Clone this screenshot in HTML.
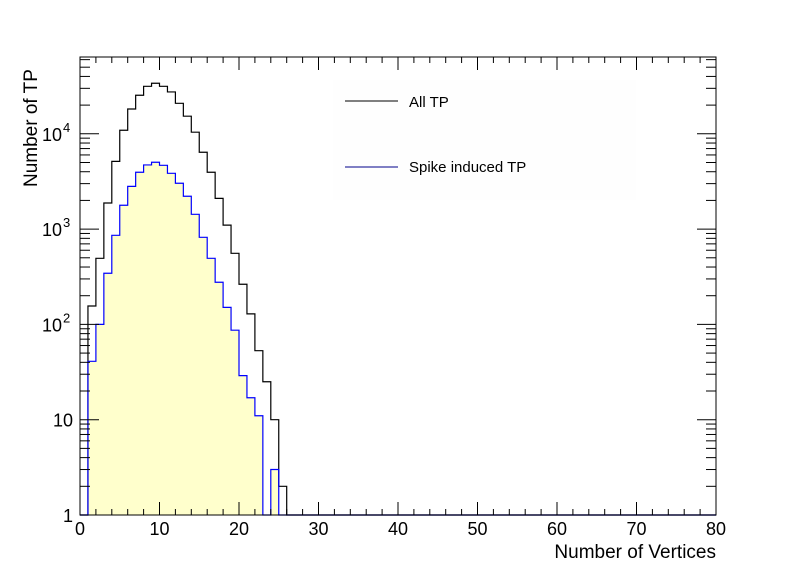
<!DOCTYPE html>
<html><head><meta charset="utf-8"><style>
html,body{margin:0;padding:0;background:#fff;}
svg{display:block;font-family:"Liberation Sans",Arial,sans-serif;}
</style></head><body>
<svg id="chart" width="796" height="572" xmlns="http://www.w3.org/2000/svg">
<rect x="333" y="80" width="303" height="120" fill="#fefefe"/>
<g id="plot"></g>
<rect x="80" y="57" width="636" height="458" fill="none" stroke="#000" stroke-width="1"/>
<g id="axes"></g>
<line x1="345" y1="101" x2="398" y2="101" stroke="#000"/>
<text x="409" y="107" font-size="15">All TP</text>
<line x1="345" y1="167" x2="398" y2="167" stroke="#00008b"/>
<text x="409" y="172" font-size="15">Spike induced TP</text>
<text x="716" y="558" font-size="19" text-anchor="end">Number of Vertices</text>
<text transform="translate(37,187) rotate(-90)" font-size="19">Number of TP</text>
</svg>
<script>
const allTP = [0,156,494,1880,5140,10900,18200,25400,31500,33900,31500,27500,20900,15300,10400,6400,3950,2100,1100,557,264,129,53,25,10,2];
const spikeTP = [0,41,100,344,861,1780,2810,3950,4710,5030,4670,3850,3030,2210,1430,820,494,277,151,87,29,17,11,0,3,0];
const xTicks = [0,10,20,30,40,50,60,70,80];
const yTicks = [1,10,100,1000,10000];
const yTickBase = ["1","10","10","10","10"];
const yTickExp = ["","","2","3","4"];

const X0=80,X1=716,Y0=515,Y1=57,XMIN=0,XMAX=80,DEC=95.3;
const ns="http://www.w3.org/2000/svg";
function xs(v){return X0+(v-XMIN)/(XMAX-XMIN)*(X1-X0);}
function ys(v){return v<=0?Y0:Y0-Math.log10(v)*DEC;}
const plot=document.getElementById('plot'),axes=document.getElementById('axes');
function mk(t,a,p){const e=document.createElementNS(ns,t);for(const k in a)e.setAttribute(k,a[k]);p.appendChild(e);return e;}
function stepPath(vals){let d='M'+xs(0)+','+Y0;for(let i=0;i<XMAX;i++){const v=i<vals.length?vals[i]:0;const y=ys(v);d+=' L'+xs(i)+','+y+' L'+xs(i+1)+','+y;}d+=' L'+xs(XMAX)+','+Y0;return d;}
const fill=mk('path',{d:stepPath(spikeTP)+' Z',fill:'#ffffcc',stroke:'none'},plot);


const pa=mk('path',{d:stepPath(allTP),fill:'none',stroke:'#000','stroke-width':1.2},plot);


const pb=mk('path',{d:stepPath(spikeTP),fill:'none',stroke:'#0000ff','stroke-width':1.2},plot);


for(let v=XMIN;v<=XMAX;v+=2){const maj=v%10===0;const L=maj?13:6;const x=xs(v);
mk('line',{x1:x,y1:Y0,x2:x,y2:Y0-L,stroke:'#000'},axes);mk('line',{x1:x,y1:Y1,x2:x,y2:Y1+L,stroke:'#000'},axes);}
xTicks.forEach(v=>{const t=mk('text',{x:xs(v),y:535,'font-size':18,'text-anchor':'middle'},axes);t.textContent=v;

});
for(let d=0;d<5;d++){for(let m=1;m<=9;m++){const v=m*Math.pow(10,d);const y=ys(v);if(y<Y1)continue;const L=m===1?19:10;
mk('line',{x1:X0,y1:y,x2:X0+L,y2:y,stroke:'#000'},axes);mk('line',{x1:X1,y1:y,x2:X1-L,y2:y,stroke:'#000'},axes);}}
yTicks.forEach((v,i)=>{const y=ys(v)+7;
const t=mk('text',{x:yTickExp[i]?62:73,y:y,'font-size':18,'text-anchor':'end'},axes);t.textContent=yTickBase[i];


if(yTickExp[i]){const s=mk('text',{x:63,y:y-9,'font-size':13},axes);s.textContent=yTickExp[i];

}});
</script>
</body></html>
